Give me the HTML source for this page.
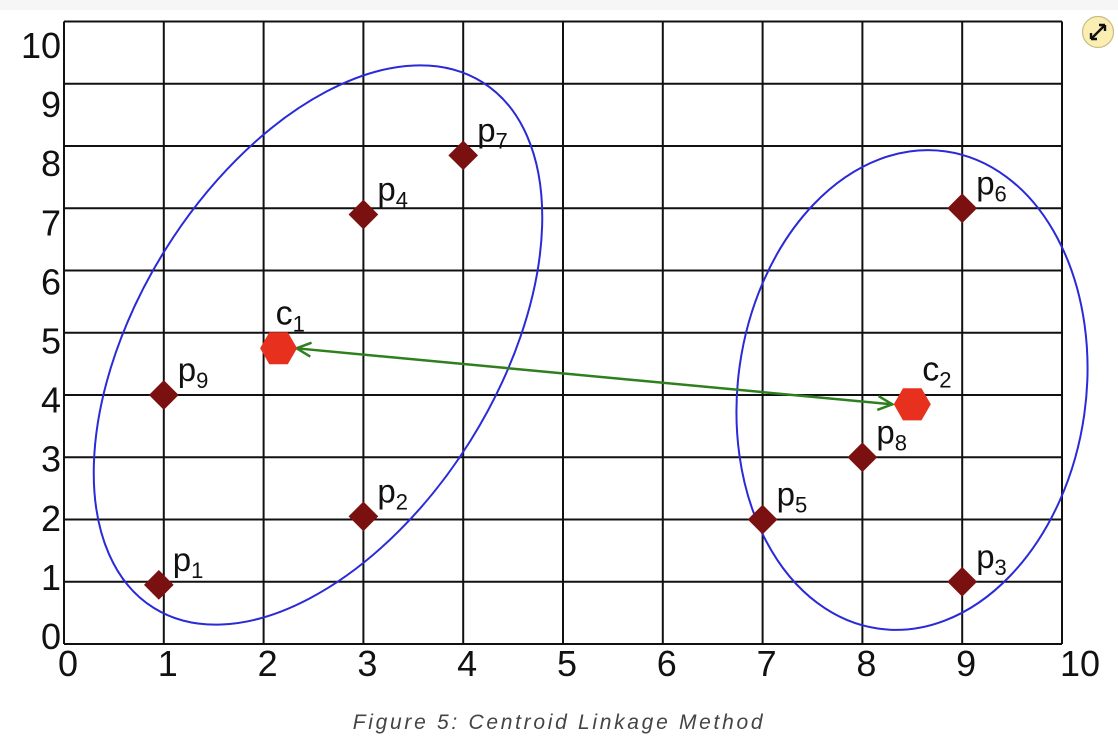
<!DOCTYPE html>
<html><head><meta charset="utf-8"><style>
html,body{margin:0;padding:0;background:#fff;}
body{width:1118px;height:754px;overflow:hidden;position:relative;font-family:"Liberation Sans",sans-serif;}
#topbar{position:absolute;left:0;top:0;width:1118px;height:10px;background:#f6f6f6;}
#caption{position:absolute;left:0;top:711px;width:1118px;text-align:center;font-style:italic;font-size:21px;letter-spacing:2.7px;color:#444;}
</style></head><body>
<div id="topbar"></div>
<svg id="chart" width="1118" height="754" style="position:absolute;left:0;top:0">
<g id="grid"></g>
<g id="ticks"></g>
<ellipse cx="318" cy="345" rx="310" ry="180" transform="rotate(-58 318 345)" fill="none" stroke="#2a2ad8" stroke-width="2"/>
<ellipse cx="912" cy="390" rx="174" ry="241" transform="rotate(8 912 390)" fill="none" stroke="#2a2ad8" stroke-width="2"/>
<g id="marks"></g>
<g>
<circle cx="1098" cy="32" r="15.5" fill="#fbeeb2" stroke="#c9bd86" stroke-width="1.2"/>
<path d="M1091 39 L1105 25 M1091 39 l0 -6 M1091 39 l6 0 M1105 25 l-6 0 M1105 25 l0 6" stroke="#111" stroke-width="2.4" fill="none"/>
</g>
</svg>
<div id="caption">Figure 5: Centroid Linkage Method</div>
<script>
const tickValues=[0,1,2,3,4,5,6,7,8,9,10];
const pointNames=["1","2","3","4","5","6","7","8","9"];
const pointX=[0.95,3,9,3,7,9,4,8,1];
const pointY=[0.95,2.05,1,6.9,2,7,7.85,3,4];
const centroidNames=["1","2"];
const centroidX=[2.15,8.5];
const centroidY=[4.75,3.85];
const NS="http://www.w3.org/2000/svg";
const X0=64,X1=1062,Y0=644,Y1=21.5;
const sx=v=>X0+(X1-X0)*v/10;
const sy=v=>Y0-(Y0-Y1)*v/10;
const ly=v=>636-(636-45)*v/10;
function mk(tag,attrs,parent){const e=document.createElementNS(NS,tag);for(const k in attrs)e.setAttribute(k,attrs[k]);parent.appendChild(e);return e;}
const grid=document.getElementById('grid'),ticks=document.getElementById('ticks'),marks=document.getElementById('marks');
tickValues.forEach(v=>{
  let l=mk('line',{x1:sx(v),x2:sx(v),y1:Y1,y2:Y0,stroke:'#111','stroke-width':2},grid);
  
  
  let h=mk('line',{x1:X0,x2:X1,y1:sy(v),y2:sy(v),stroke:'#111','stroke-width':2},grid);
  
  
  let ty=mk('text',{x:61,y:ly(v)+13,'text-anchor':'end','font-size':36,fill:'#111'},ticks);
  ty.textContent=v;
  
  
  let xx=sx(v)+4; if(v===0)xx=68; if(v===10)xx=1080;
  let tx=mk('text',{x:xx,y:676,'text-anchor':'middle','font-size':36,fill:'#111'},ticks);
  tx.textContent=v;
  
  
});
const ax1=sx(centroidX[0])+18,ay1=sy(centroidY[0]),ax2=sx(centroidX[1])-20,ay2=sy(centroidY[1]);
const arrow=mk('g',{},marks);


mk('line',{x1:ax1,y1:ay1,x2:ax2,y2:ay2,stroke:'#2f7f1f','stroke-width':2.5},arrow);
const ang=Math.atan2(ay2-ay1,ax2-ax1);
function head(x,y,a){const L=16,w=0.45;mk('path',{d:`M${x-L*Math.cos(a-w)} ${y-L*Math.sin(a-w)} L${x} ${y} L${x-L*Math.cos(a+w)} ${y-L*Math.sin(a+w)}`,stroke:'#2f7f1f','stroke-width':2.5,fill:'none'},arrow);}
head(ax2,ay2,ang);head(ax1,ay1,ang+Math.PI);
pointX.forEach((px,i)=>{
  const cx=sx(px),cy=sy(pointY[i]);
  const d=mk('rect',{x:cx-10.5,y:cy-10.5,width:21,height:21,fill:'#7a1010',transform:`rotate(45 ${cx} ${cy})`},marks);
  
  
  const t=mk('text',{x:cx+14,y:cy-14,'font-size':33,fill:'#111'},marks);
  t.innerHTML='p<tspan font-size="22" dy="7">'+pointNames[i]+'</tspan>';
  
  
});
centroidX.forEach((px,i)=>{
  const cx=sx(px),cy=sy(centroidY[i]),r=18.5;
  let pts=[];for(let k=0;k<6;k++){const a=k*Math.PI/3;pts.push((cx+r*Math.cos(a)).toFixed(1)+','+(cy+r*Math.sin(a)).toFixed(1));}
  const h=mk('polygon',{points:pts.join(' '),fill:'#e8301f'},marks);
  
  
  const t=mk('text',{x:cx+(i===0?-3:10),y:cy-24,'font-size':34,fill:'#111'},marks);
  t.innerHTML='c<tspan font-size="22" dy="7">'+centroidNames[i]+'</tspan>';
  
  
});
</script>
</body></html>
